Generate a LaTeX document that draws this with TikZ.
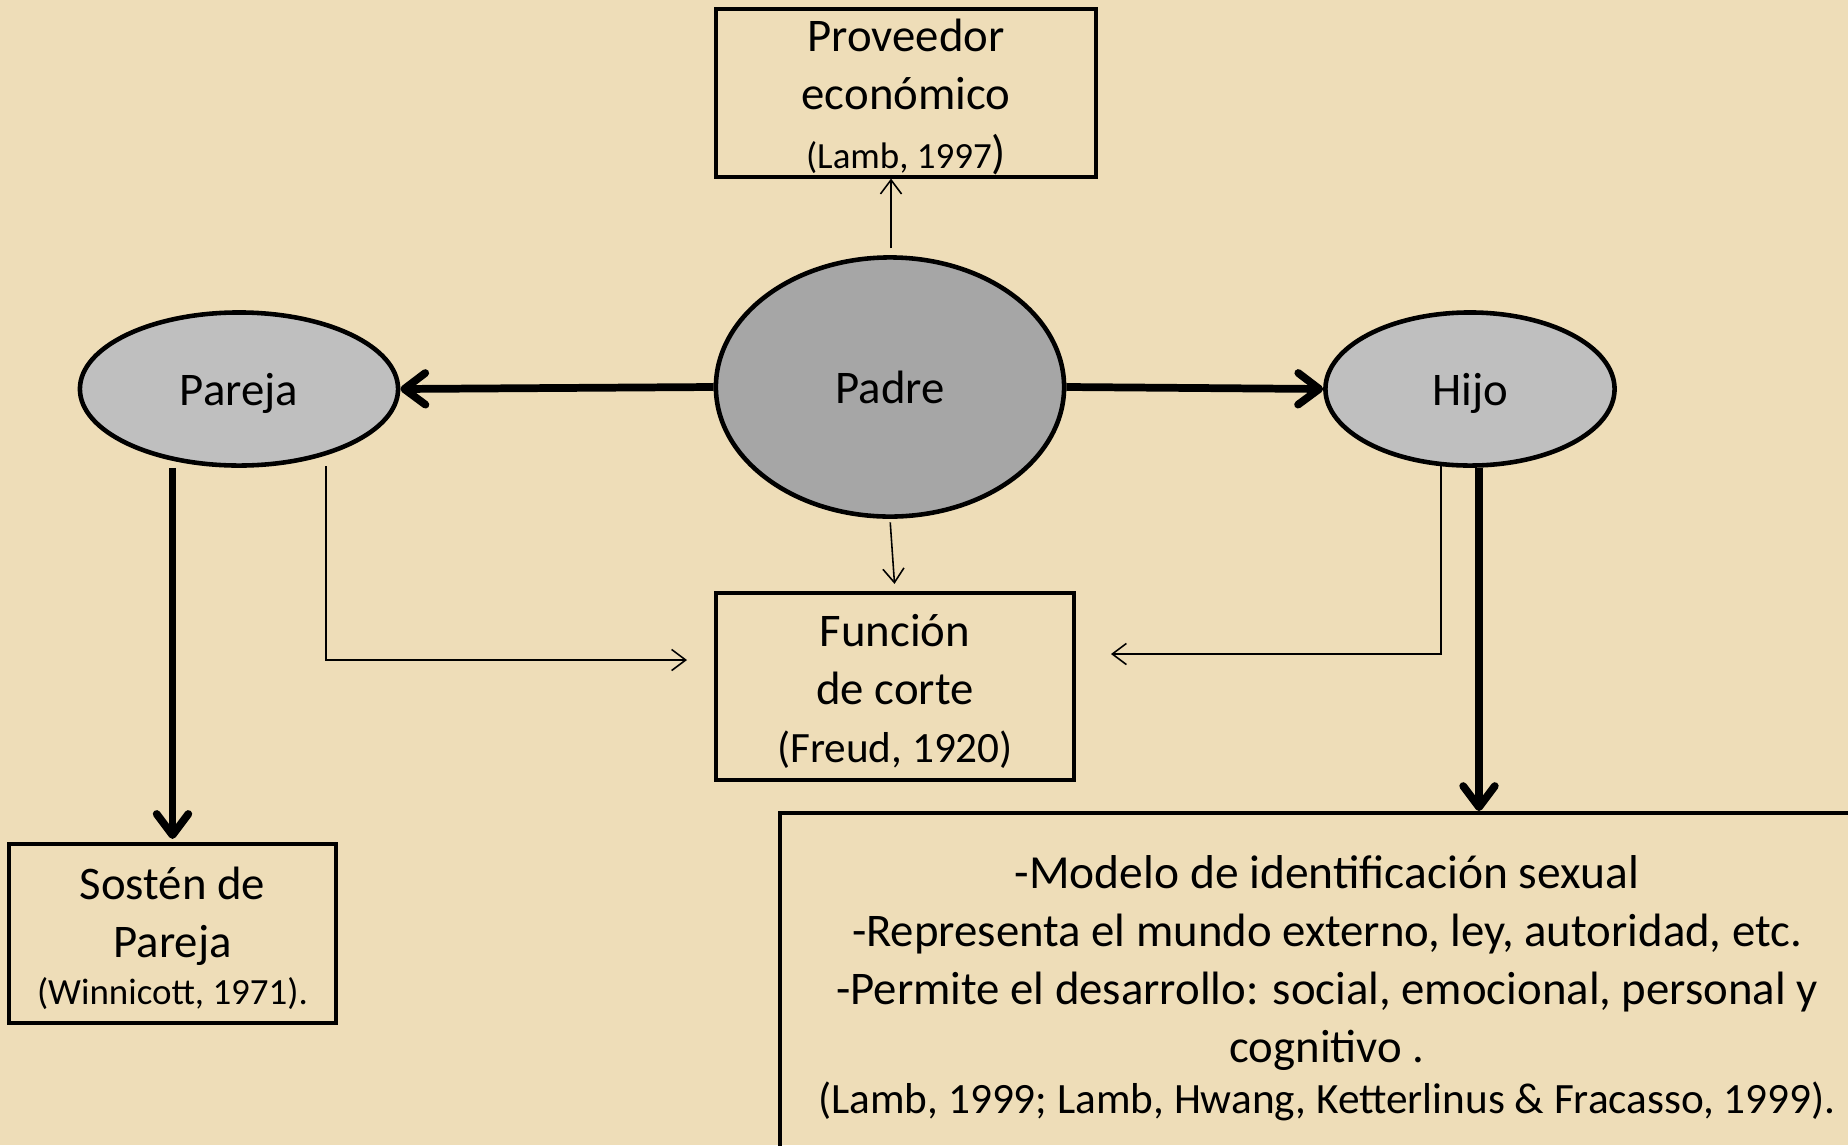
\documentclass[tikz,border=0pt]{standalone}
\usepackage{fontspec}
\setmainfont{Carlito}
\usetikzlibrary{shapes.geometric,arrows.meta}
\definecolor{parchment}{RGB}{238,221,184}
\definecolor{padregray}{RGB}{166,166,166}
\definecolor{hijogray}{RGB}{191,191,191}
\begin{document}
\begin{tikzpicture}[x=0.01cm, y=-0.01cm,
  every node/.style={font=\fontsize{13.3}{16.5}\selectfont, align=center, inner sep=0pt},
  oval/.style={ellipse, draw=black, line width=1.3pt, text depth=0pt},
  box/.style={rectangle, draw=black, line width=1.15pt},
  bigarrow/.style={line width=2.2pt, -{Straight Barb[length=6pt,width=9pt,round]}},
  thinarrow/.style={line width=0.45pt, -{Straight Barb[length=4pt,width=6pt]}}]
\useasboundingbox (0,0) rectangle (1848,1145);
\fill[parchment] (0,0) rectangle (1848,1145);

\node (padre) at (890, 387) [oval, fill=padregray, minimum width=3.48cm, minimum height=2.59cm] {Padre};
\node (pareja) at (239, 389) [oval, fill=hijogray, minimum width=3.18cm, minimum height=1.53cm] {Pareja};
\node (hijo) at (1470, 389) [oval, fill=hijogray, minimum width=2.89cm, minimum height=1.53cm] {Hijo};

\node (proveedor) at (906, 93) [box, minimum width=3.79cm, minimum height=1.67cm] {};
\node at (906, 97) {Proveedor\\ económico\\ {\fontsize{10.5}{13}\selectfont (Lamb, 1997}{\fontsize{13.3}{13}\selectfont )}};
\node (funcion) at (895, 686.5) [box, minimum width=3.57cm, minimum height=1.87cm] {};
\node at (895, 691.5) {Función\\ de corte\\ {\fontsize{12.3}{14}\selectfont (Freud, 1920)}};
\node (sosten) at (172.5, 933.5) [box, minimum width=3.27cm, minimum height=1.79cm] {};
\node at (172.5, 938.5) {Sostén de\\ Pareja\\[-3pt] {\fontsize{10.5}{13}\selectfont (Winnicott, 1971).}};
\node (modelo) at (778, 811) [box, anchor=north west, minimum width=11.2cm, minimum height=4cm] {};
\node (modelotxt) at (1327, 988) {\fontsize{13.5}{16.5}\selectfont -Modelo de identificación sexual\\ -Representa el mundo externo, ley, autoridad, etc.\\ -Permite el desarrollo: social, emocional, personal y\\ cognitivo .\\[-2pt] {\fontsize{12.3}{14}\selectfont (Lamb, 1999; Lamb, Hwang, Ketterlinus \& Fracasso, 1999).}};

\coordinate (parejaout) at (326, 466);
\coordinate (funcionl) at (687, 660);
\coordinate (hijoout) at (1441, 466);
\coordinate (funcionr) at (1111, 654);

\draw[bigarrow] (padre.west) to (pareja.east);
\draw[bigarrow] (padre.east) to (hijo.west);
\draw[bigarrow] (pareja.south -| sosten.north) to ([yshift=0.03cm]sosten.north);
\draw[bigarrow] ([xshift=0.09cm]hijo.south) to ([xshift=0.09cm]hijo.south |- modelo.north);
\draw[thinarrow, shorten <=2pt] ([xshift=0.01cm]padre.north) to ([xshift=0.01cm]padre.north |- proveedor.south);
\draw[thinarrow, shorten <=1pt, shorten >=2pt] (padre.south) to (funcion.north);
\draw[thinarrow] (parejaout) |- (funcionl);
\draw[thinarrow] (hijoout) |- (funcionr);
\end{tikzpicture}
\end{document}
